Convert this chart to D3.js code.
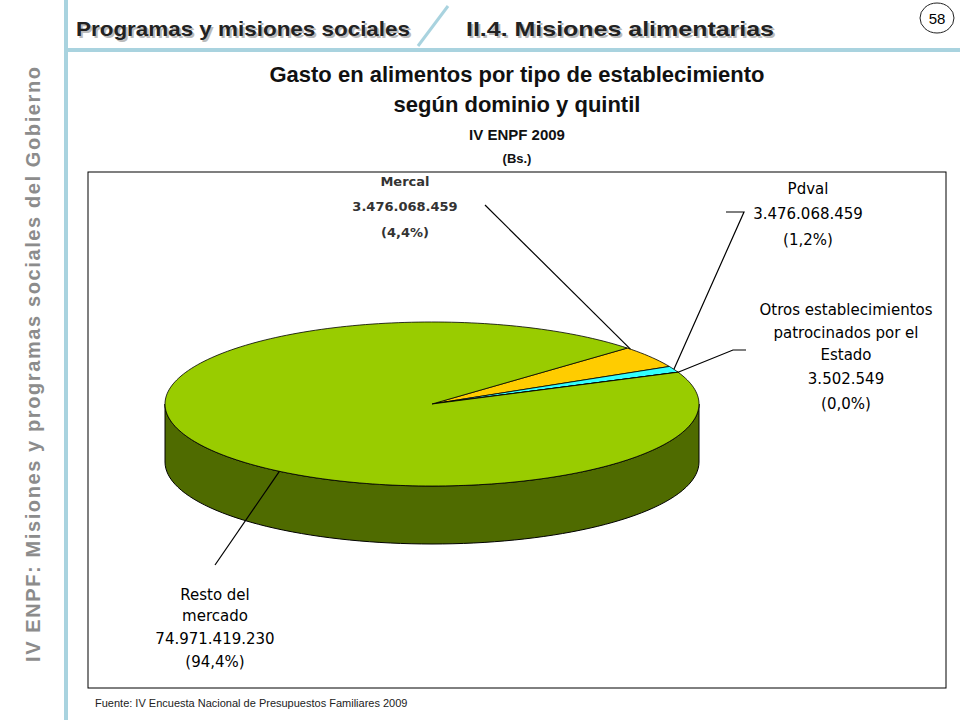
<!DOCTYPE html>
<html><head><meta charset="utf-8">
<script src="https://cdn.jsdelivr.net/npm/d3@7"></script>
<style>body{margin:0;background:#fff}svg{display:block}</style>
</head><body><div id="chart"></div>
<script>
var categories = ["Mercal", "Pdval", "Otros establecimientos patrocinados por el Estado", "Resto del mercado"];
var values = [3476068459, 974068459, 3502549, 74971419230];
var shares = ["(4,4%)", "(1,2%)", "(0,0%)", "(94,4%)"];
var amounts = ["3.476.068.459", "3.476.068.459", "3.502.549", "74.971.419.230"];
var colors = ["#ffcc00", "#33ffff", "#00cccc", "#99cc00"];

var W = 960, H = 720;
var svg = d3.select("#chart").append("svg").attr("width", W).attr("height", H)
  .style("font-family", "Arial, 'Liberation Sans', sans-serif");

// frame decorations
svg.append("line").attr("x1", 66).attr("x2", 66).attr("y1", 0).attr("y2", H)
  .attr("stroke", "#a9d3df").attr("stroke-width", 4);
svg.append("line").attr("x1", 66).attr("x2", W).attr("y1", 50).attr("y2", 50)
  .attr("stroke", "#a9d3df").attr("stroke-width", 4);
svg.append("line").attr("x1", 418).attr("x2", 448).attr("y1", 46).attr("y2", 6)
  .attr("stroke", "#a9d3df").attr("stroke-width", 3);
svg.append("text").attr("transform", "translate(40,662) rotate(-90)")
  .attr("fill", "#8c8c8c").attr("font-size", 20).attr("font-weight", "bold")
  .attr("textLength", 595).attr("lengthAdjust", "spacing")
  .text("IV ENPF: Misiones y programas sociales del Gobierno");

var hdr = svg.append("g").attr("font-weight", "bold").attr("font-size", 21);
[["Programas y misiones sociales", 76, 334], ["II.4. Misiones alimentarias", 466, 308]].forEach(function (t) {
  hdr.append("text").attr("x", t[1] + 2).attr("y", 38).attr("fill", "#bbb")
    .attr("textLength", t[2]).attr("lengthAdjust", "spacingAndGlyphs").text(t[0]);
  hdr.append("text").attr("x", t[1]).attr("y", 36).attr("fill", "#222")
    .attr("textLength", t[2]).attr("lengthAdjust", "spacingAndGlyphs").text(t[0]);
});
svg.append("ellipse").attr("cx", 937).attr("cy", 18).attr("rx", 17).attr("ry", 15)
  .attr("fill", "#fff").attr("stroke", "#222");
svg.append("text").attr("x", 937).attr("y", 24).attr("text-anchor", "middle")
  .attr("font-size", 15).text("58");

var tt = svg.append("g").attr("text-anchor", "middle").attr("font-weight", "bold").attr("fill", "#111");
tt.append("text").attr("x", 517).attr("y", 82).attr("font-size", 22).text("Gasto en alimentos por tipo de establecimiento");
tt.append("text").attr("x", 517).attr("y", 112).attr("font-size", 22).text("según dominio y quintil");
tt.append("text").attr("x", 517).attr("y", 140).attr("font-size", 15).text("IV ENPF 2009");
tt.append("text").attr("x", 517).attr("y", 163).attr("font-size", 13).text("(Bs.)");

svg.append("rect").attr("x", 88).attr("y", 172).attr("width", 858).attr("height", 516)
  .attr("fill", "none").attr("stroke", "#000");
svg.append("text").attr("x", 95).attr("y", 707).attr("font-size", 11).attr("fill", "#222")
  .text("Fuente: IV Encuesta Nacional de Presupuestos Familiares 2009");

// 3D pie
var cx = 432, cy = 404, rx = 267, ry = 82, depth = 58;
var pie = d3.pie().sort(null).value(function (d) { return d; })
  .startAngle(47 * Math.PI / 180).endAngle(47 * Math.PI / 180 + 2 * Math.PI);
var arcs = pie(values);
function pt(a, dy) { return [cx + rx * Math.sin(a), cy - ry * Math.cos(a) + (dy || 0)]; }

// front wall (visible half)
var wall = d3.path();
var N = 80, a0 = Math.PI / 2, a1 = 3 * Math.PI / 2;
for (var i = 0; i <= N; i++) {
  var p = pt(a0 + (a1 - a0) * i / N);
  if (i == 0) wall.moveTo(p[0], p[1]); else wall.lineTo(p[0], p[1]);
}
for (var i = N; i >= 0; i--) {
  var p = pt(a0 + (a1 - a0) * i / N, depth);
  wall.lineTo(p[0], p[1]);
}
wall.closePath();
svg.append("path").attr("d", wall.toString()).attr("fill", "#4f6b00").attr("stroke", "#000");

var g = svg.append("g");
arcs.forEach(function (d, k) {
  var path = d3.path();
  path.moveTo(cx, cy);
  var n = Math.max(2, Math.ceil((d.endAngle - d.startAngle) * 40));
  for (var i = 0; i <= n; i++) {
    var p = pt(d.startAngle + (d.endAngle - d.startAngle) * i / n);
    path.lineTo(p[0], p[1]);
  }
  path.closePath();
  g.append("path").attr("d", path.toString()).attr("fill", colors[k])
    .attr("stroke", "#000").attr("stroke-width", 0.8);
});

// labels
var labelLines = [
  [["Mercal", amounts[0], shares[0]], 405, [186, 211, 237], 13],
  [["Pdval", amounts[1], shares[1]], 808, [194, 219, 245], 15],
  [["Otros establecimientos", "patrocinados por el", "Estado", amounts[2], shares[2]], 846, [315, 338, 360, 384, 409], 15],
  [["Resto del", "mercado", amounts[3], shares[3]], 215, [600, 621, 644, 667], 15]
];
var leaders = [
  [[485, 205], null, 0.5 * (arcs[0].startAngle + arcs[0].endAngle) - 0.12],
  [[726, 212], [744, 212], 0.5 * (arcs[1].startAngle + arcs[1].endAngle)],
  [[746, 350], [733, 350], arcs[2].startAngle],
  [[215, 565], null, 3.75]
];
leaders.forEach(function (l) {
  var e = pt(l[2]);
  var pts = [l[0]];
  if (l[1]) pts.push(l[1]);
  pts.push(e);
  svg.append("path").attr("d", d3.line()(pts)).attr("fill", "none").attr("stroke", "#000").attr("stroke-width", 1.2);
});
labelLines.forEach(function (L) {
  L[0].forEach(function (s, i) {
    svg.append("text").attr("x", L[1]).attr("y", L[2][i]).attr("text-anchor", "middle")
      .attr("font-size", L[3]).attr("font-family", "'DejaVu Sans', Verdana, sans-serif")
      .attr("font-weight", L[1] == 405 ? "bold" : "normal").attr("fill", L[1] == 405 ? "#333" : "#000")
      .text(s);
  });
});
</script></body></html>
